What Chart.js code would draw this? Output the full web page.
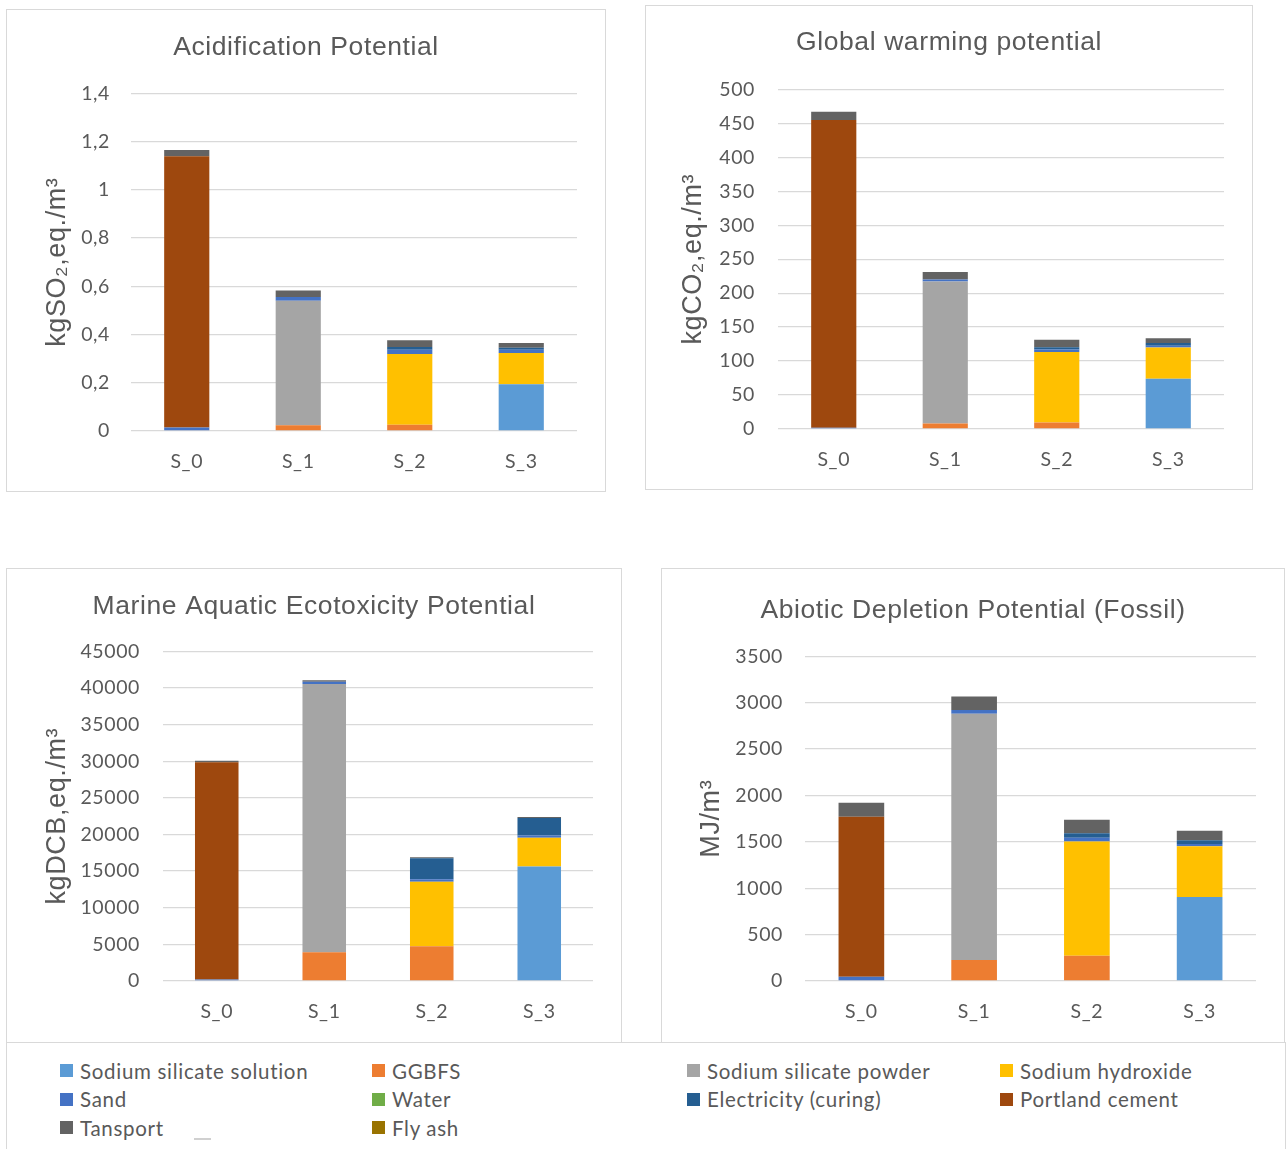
<!DOCTYPE html>
<html>
<head>
<meta charset="utf-8">
<script src="https://cdn.jsdelivr.net/npm/chart.js@4.4.0/dist/chart.umd.min.js"></script>
<style>
  html, body { margin: 0; padding: 0; background: #ffffff; }
  body { width: 1288px; height: 1149px; position: relative; overflow: hidden; }
  .panel { position: absolute; border: 1px solid #d9d9d9; box-sizing: border-box; background: #fff; }
  .panel canvas { position: absolute; left: 0; top: 0; }
  #legend { position: absolute; left: 6px; top: 1042px; width: 1280px; height: 120px; border: 1px solid #d9d9d9; box-sizing: border-box; }
  #legendItems { position: absolute; left: 53px; top: 13.5px; display: grid;
    grid-template-columns: 312px 315px 313px 280px; grid-auto-rows: 28.5px; }
  .item { display: flex; align-items: center; font-family: Lato, "Open Sans", sans-serif; font-size: 20.5px;
    letter-spacing: 0.7px; color: #595959; white-space: nowrap; }
  .swatch { width: 13px; height: 13px; margin-right: 7px; flex: none; }
  .dash { position: absolute; left: 187px; top: 95px; width: 17px; height: 2px; background: #d0d0d0; }
</style>
</head>
<body>
<div class="panel" style="left:6px;top:9px;width:600px;height:483px"><canvas id="c1" width="598" height="481"></canvas></div>
<div class="panel" style="left:645px;top:5px;width:608px;height:485px"><canvas id="c2" width="606" height="483"></canvas></div>
<div class="panel" style="left:6px;top:568px;width:616px;height:475px"><canvas id="c3" width="614" height="473"></canvas></div>
<div class="panel" style="left:661px;top:568px;width:624px;height:475px"><canvas id="c4" width="622" height="473"></canvas></div>
<div id="legend"><div id="legendItems"></div><div class="dash"></div></div>
<script>
// Scenarios on the x axis
const scenarios = ['S_0', 'S_1', 'S_2', 'S_3'];

// Contributing materials / processes, in stacking order (bottom to top)
const materials = ['Sodium silicate solution', 'GGBFS', 'Sodium silicate powder', 'Sodium hydroxide',
  'Sand', 'Water', 'Electricity (curing)', 'Portland cement', 'Tansport', 'Fly ash'];
const materialColors = ['#5B9BD5', '#ED7D31', '#A5A5A5', '#FFC000',
  '#4472C4', '#70AD47', '#255E91', '#9E480E', '#636363', '#997300'];

// One row per material, one value per scenario
const acidificationValues = [
  [0, 0, 0, 0.194],
  [0, 0.024, 0.026, 0],
  [0, 0.516, 0, 0],
  [0, 0, 0.293, 0.129],
  [0.015, 0.016, 0.018, 0.014],
  [0, 0, 0, 0],
  [0, 0, 0.011, 0.008],
  [1.124, 0, 0, 0],
  [0.026, 0.027, 0.028, 0.020],
  [0, 0, 0, 0]
];
const warmingValues = [
  [0, 0, 0, 74],
  [0, 8, 9.4, 0],
  [0, 209, 0, 0],
  [0, 0, 104, 46],
  [2, 3, 3.5, 2.5],
  [0, 0, 0, 0],
  [0, 0, 3.5, 4],
  [453, 0, 0, 0],
  [12, 11, 11, 7],
  [0, 0, 0, 0]
];
const ecotoxValues = [
  [0, 0, 0, 15620],
  [0, 3930, 4750, 0],
  [0, 36620, 0, 0],
  [0, 0, 8810, 3930],
  [200, 320, 320, 320],
  [0, 0, 0, 0],
  [0, 0, 2880, 2380],
  [29650, 0, 0, 0],
  [230, 180, 140, 140],
  [0, 0, 0, 0]
];
const depletionValues = [
  [0, 0, 0, 906],
  [0, 227, 273, 0],
  [0, 2654, 0, 0],
  [0, 0, 1231, 547],
  [47, 40, 40, 25],
  [0, 0, 0, 0],
  [0, 0, 50, 40],
  [1723, 0, 0, 0],
  [151, 147, 144, 101],
  [0, 0, 0, 0]
];

// Tick labels (decimal comma)
const acidificationTicks = ['0', '0,2', '0,4', '0,6', '0,8', '1', '1,2', '1,4'];
const warmingTicks = ['0', '50', '100', '150', '200', '250', '300', '350', '400', '450', '500'];
const ecotoxTicks = ['0', '5000', '10000', '15000', '20000', '25000', '30000', '35000', '40000', '45000'];
const depletionTicks = ['0', '500', '1000', '1500', '2000', '2500', '3000', '3500'];

const TEXT = '#595959';
const GRID = '#d9d9d9';
const TICK_FONT = 'Lato, "Open Sans", sans-serif';
const TITLE_FONT = '"Liberation Sans", Arial, sans-serif';
const SIDE = 28; // equal side padding keeps the chart title centred on the panel

// Slightly wider letter spacing for all canvas text
const spacingPlugin = {
  id: 'spacing',
  beforeDraw(chart) { chart.ctx.letterSpacing = '0.6px'; }
};

function makeChart(id, spec) {
  const datasets = materials.map((name, i) => ({
    label: name,
    data: spec.values[i],
    backgroundColor: materialColors[i],
    borderWidth: 0,
    categoryPercentage: 1,
    barPercentage: 0.405
  }));
  return new Chart(document.getElementById(id), {
    type: 'bar',
    data: { labels: scenarios, datasets },
    plugins: [spacingPlugin],
    options: {
      responsive: false,
      animation: false,
      devicePixelRatio: 1,
      layout: { padding: { left: SIDE, right: SIDE, top: 0, bottom: 0 } },
      plugins: {
        legend: { display: false },
        tooltip: { enabled: false },
        title: {
          display: true,
          text: spec.title,
          color: TEXT,
          font: { family: TITLE_FONT, size: 26.5, weight: 'normal', lineHeight: 1.2 },
          padding: { top: spec.titleTop, bottom: spec.titleBottom }
        }
      },
      scales: {
        x: {
          stacked: true,
          grid: { display: false, drawTicks: false },
          border: { display: false },
          ticks: { color: TEXT, font: { family: TICK_FONT, size: 19.5 }, padding: 19.5 },
          afterFit: (s) => { s.height = spec.xHeight; }
        },
        y: {
          stacked: true,
          min: 0,
          max: spec.max,
          ticks: {
            stepSize: spec.step,
            color: TEXT,
            font: { family: TICK_FONT, size: 19.5 },
            padding: spec.tickPad,
            callback: (v, i) => spec.ticks[i]
          },
          grid: { color: GRID, lineWidth: 1.3, drawTicks: false },
          border: { display: false },
          title: {
            display: true,
            text: spec.yTitle,
            color: TEXT,
            font: { family: TITLE_FONT, size: 27, weight: 'normal', lineHeight: 1.2 },
            padding: { top: spec.yTitlePad - SIDE, bottom: 0 }
          },
          afterFit: (s) => { s.width = spec.yWidth - SIDE; }
        }
      }
    }
  });
}

makeChart('c1', {
  values: acidificationValues, ticks: acidificationTicks, max: 1.4, step: 0.2,
  title: 'Acidification Potential', yTitle: 'kgSO\u2082,eq./m\u00B3',
  titleTop: 22, titleBottom: 29.6, yWidth: 124, xHeight: 60, tickPad: 21, yTitlePad: 34
});
makeChart('c2', {
  values: warmingValues, ticks: warmingTicks, max: 500, step: 50,
  title: 'Global warming potential', yTitle: 'kgCO\u2082,eq./m\u00B3',
  titleTop: 21, titleBottom: 30.6, yWidth: 132, xHeight: 60, tickPad: 23, yTitlePad: 31
});
makeChart('c3', {
  values: ecotoxValues, ticks: ecotoxTicks, max: 45000, step: 5000,
  title: 'Marine Aquatic Ecotoxicity Potential', yTitle: 'kgDCB,eq./m\u00B3',
  titleTop: 22, titleBottom: 28.6, yWidth: 156, xHeight: 61, tickPad: 23, yTitlePad: 34
});
makeChart('c4', {
  values: depletionValues, ticks: depletionTicks, max: 3500, step: 500,
  title: 'Abiotic Depletion Potential (Fossil)', yTitle: 'MJ/m\u00B3',
  titleTop: 26, titleBottom: 29.6, yWidth: 143, xHeight: 61, tickPad: 22, yTitlePad: 33
});

// Shared legend built from the material list
const legendBox = document.getElementById('legendItems');
materials.forEach((name, i) => {
  const item = document.createElement('div');
  item.className = 'item';
  const sw = document.createElement('span');
  sw.className = 'swatch';
  sw.style.background = materialColors[i];
  const label = document.createElement('span');
  label.textContent = name;
  item.appendChild(sw);
  item.appendChild(label);
  legendBox.appendChild(item);
});
</script>
</body>
</html>
